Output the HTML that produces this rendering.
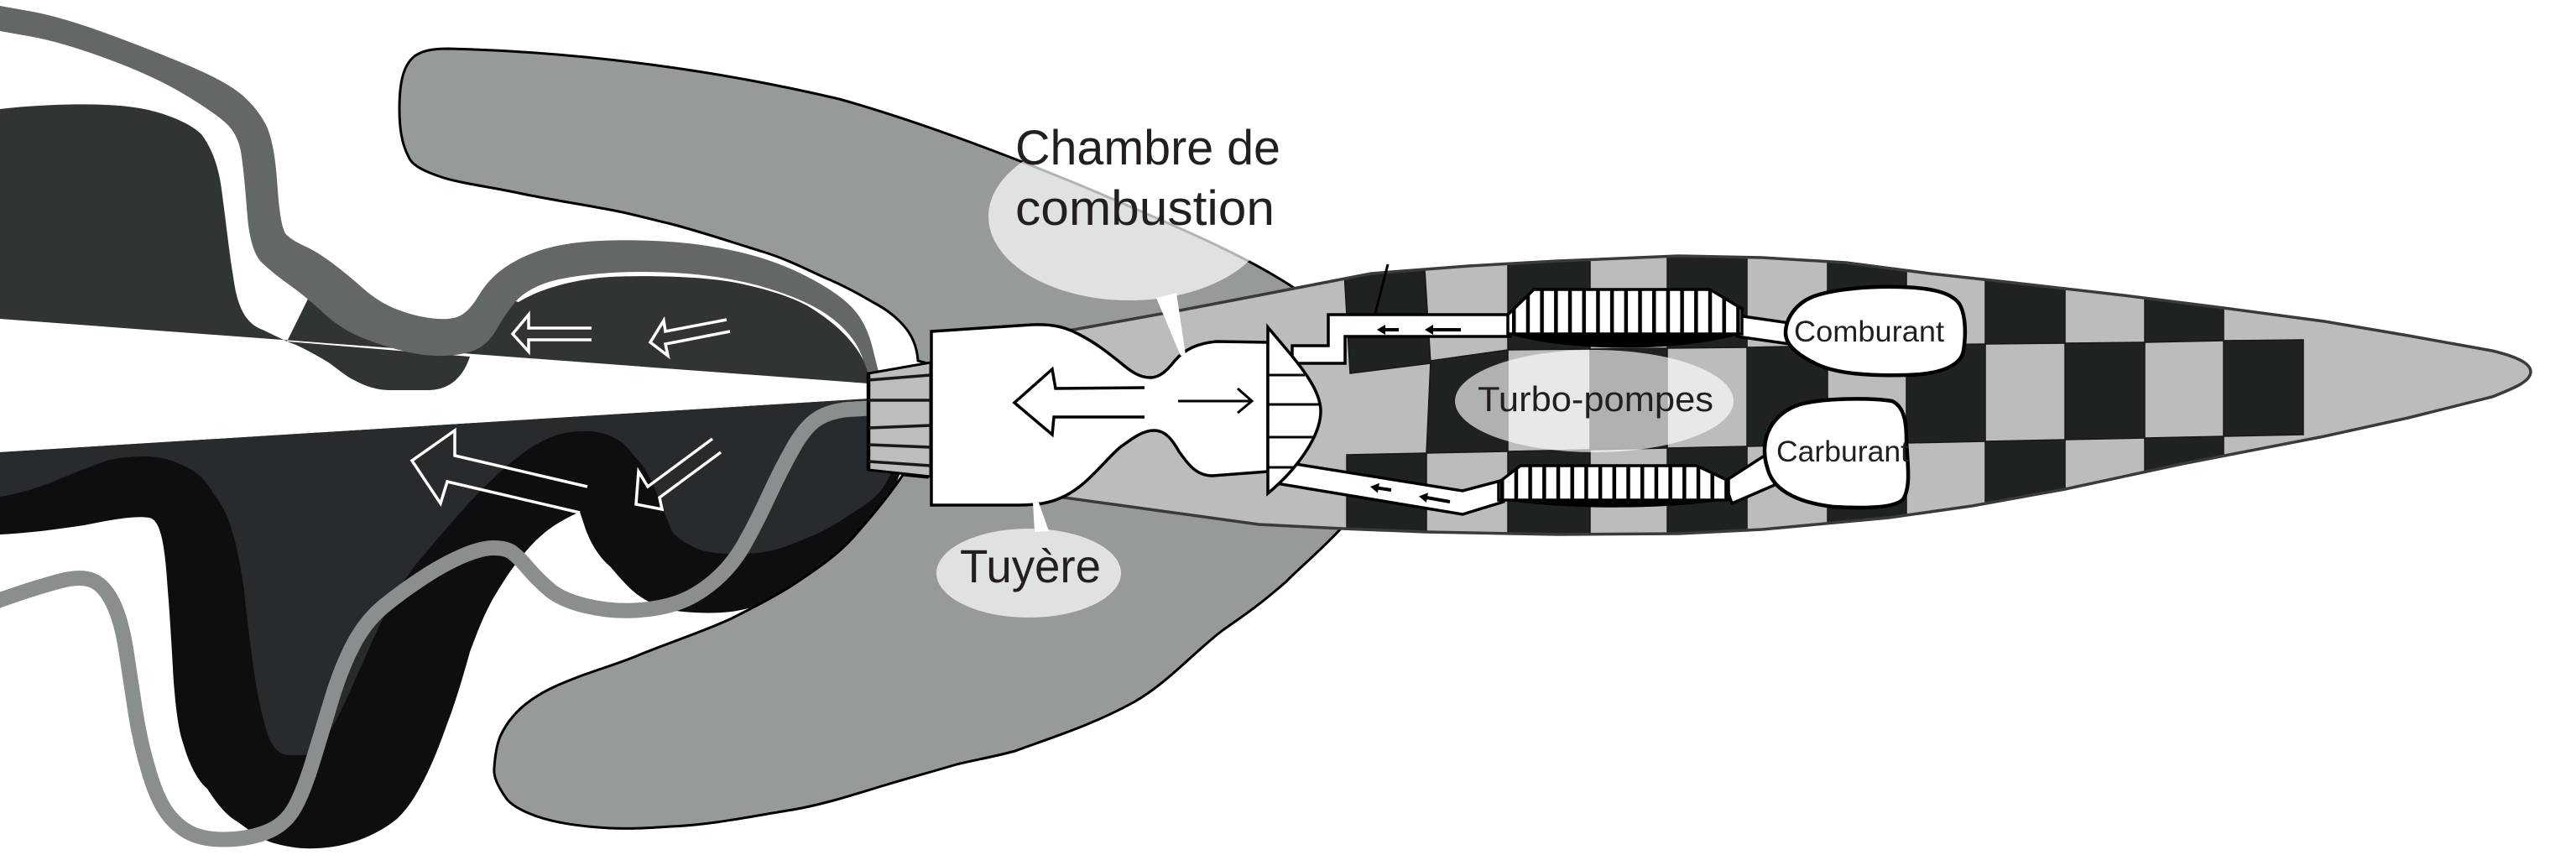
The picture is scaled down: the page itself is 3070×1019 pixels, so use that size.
<!DOCTYPE html>
<html><head><meta charset="utf-8"><title>Moteur-fusée</title>
<style>
html,body{margin:0;padding:0;background:#fff;width:3070px;height:1019px;overflow:hidden;}
svg{display:block;}
text{font-family:"Liberation Sans","DejaVu Sans",sans-serif;fill:#231f20;}
</style></head><body>
<svg xmlns="http://www.w3.org/2000/svg" width="3070" height="1019" viewBox="0 0 3070 1019">
<defs>
<clipPath id="bc"><path d="M1110,424 L1279,393 L1406,370 L1500,352 L1634,326 L1750,317 L1857,311 L2000,305 L2100,307 L2200,313 L2300,326 L2400,337 L2531,352 L2650,367 L2770,383 L2870,400 L2970,418 C2995,424 3016,432 3016,443 C3016,455 2995,463 2970,473 L2870,498 L2770,520 L2600,553 L2461,583 L2350,603 L2251,617 L2100,631 L2000,636 L1857,637 L1700,634 L1600,630 L1500,625 L1268,593 L1110,571 Z"/></clipPath>
<pattern id="st1" x="1802" y="0" width="16.7" height="1019" patternUnits="userSpaceOnUse"><rect width="4.5" height="1019" fill="#000"/></pattern>
<pattern id="st2" x="1788" y="0" width="16.7" height="1019" patternUnits="userSpaceOnUse"><rect width="4.5" height="1019" fill="#000"/></pattern>
</defs>
<rect width="3070" height="1019" fill="#fff"/>

<!-- upper dark exhaust -->
<path fill="#313435" d="M0,130 C50,124 120,122 160,128 C190,132 225,145 240,160 C255,180 262,205 265,233 C270,270 273,300 278,330 C282,360 290,385 313,393 L342,407 L380,330 L421,350 L463,376 L533,388 L561,380 L582,350 L618,360 C640,346 680,333 727,330 C770,328 830,329 872,336 C920,345 950,357 965,366 C1000,388 1025,412 1038,450 L1035,457 L0,380 Z"/>
<path fill="#313435" d="M342,407 C360,413 380,425 393,433 C405,442 415,450 422,453 C440,463 455,465 465,465 L509,465 C525,465 533,460 538,457 C548,450 555,440 560,425 Z"/>

<!-- black band -->
<path fill="#0c0e10" d="M0,592 L0,637 C40,635 73,630 100,626 C130,620 160,614 178,617 C190,620 196,640 200,704 C203,740 205,780 207,813 C210,850 213,870 218,885 C225,910 235,930 247,940 C260,960 270,972 284,980 C300,992 315,1002 327,1005 C345,1010 360,1012 378,1011 C400,1010 420,1005 436,998 C450,992 462,985 473,976 C490,960 500,940 509,922 C522,895 530,870 538,849 C548,820 555,795 560,777 C570,750 578,730 589,711 C600,693 608,680 618,668 C630,652 642,640 654,631 C666,622 680,615 691,610 L698,631 C705,650 715,665 727,675 C740,690 750,702 763,711 C780,722 795,727 814,729 C835,731 855,731 872,729 C900,725 925,715 945,704 C970,690 988,676 1003,660 C1020,643 1035,628 1047,613 C1057,600 1065,585 1072,566 L1037,475 L0,539 Z"/>
<!-- lower mid-dark -->
<path fill="#282b2d" d="M0,539 L1037,475 L1061,566 C1055,578 1050,585 1047,588 C1035,600 1025,606 1018,610 C1000,622 985,632 967,639 C950,646 935,653 916,657 C900,660 885,660 872,660 C855,660 840,658 829,653 C815,647 805,640 800,631 C792,612 786,595 778,577 C770,560 763,550 756,544 C748,533 742,527 734,523 C722,516 710,514 698,514 C688,514 678,515 669,517 C650,522 632,533 618,544 C595,562 572,585 553,606 C530,632 510,655 494,675 C475,700 462,725 451,748 C440,772 430,795 422,813 C412,835 402,858 393,871 C385,885 375,900 363,900 L342,900 C330,898 324,888 320,878 C312,855 306,825 302,795 C298,765 294,735 291,704 C287,675 282,650 276,631 C270,610 262,598 254,588 C244,570 232,560 218,555 C205,548 190,544 174,544 C158,544 145,545 131,548 C110,555 90,563 73,570 C50,580 25,588 0,592 Z"/>

<!-- dark grey band (filled) -->
<path fill="#646768" d="M-5,5 L0,7 L36.5,13.5 Q73,20 127.5,40 Q182,60 225.5,78.5 Q269,97 287,112 Q305,127 316,147 Q327,167 330.5,220 Q334,273 341.5,280 Q349,287 363.5,293.5 Q378,300 396,313.5 Q414,327 432.5,343.5 Q451,360 472.5,368.5 Q494,377 516,379.5 Q538,382 549,376 Q560,370 571,351.5 Q582,333 600,320 Q618,307 643.5,298.5 Q669,290 705.5,287.5 Q742,285 789,287.5 Q836,290 879.5,300 Q923,310 959.5,328.5 Q996,347 1014,365 Q1032,383 1039.5,413 L1047,443 L1036,448 L1027,424 Q1018,400 992.5,380 Q967,360 919.5,345 Q872,330 817.5,326 Q763,322 716,326 Q669,330 647,338.5 Q625,347 614,360 Q603,373 592.5,391.5 Q582,410 567.5,416.5 Q553,423 531,424 Q509,425 483.5,419 Q458,413 432.5,403 Q407,393 385.5,373 Q364,353 345.5,340 Q327,327 312.5,313.5 Q298,300 294.5,253.5 Q291,207 287.5,183.5 Q284,160 269,146.5 Q254,133 218,111.5 Q182,90 127.5,70 Q73,50 36.5,43.5 L0,37 L-5,37 Z"/>
<!-- light grey band -->
<path fill="none" stroke="#8b8e8f" stroke-width="18" stroke-linejoin="round" d="M-10,719 L0,715 L22,707.5 Q44,700 69.5,693 Q95,686 109.5,691.5 Q124,697 134.5,718.5 Q145,740 150.5,776.5 Q156,813 161.5,849 Q167,885 178,921.5 Q189,958 203.5,974.5 Q218,991 236,996.5 Q254,1002 279.5,1000 Q305,998 323.5,989 Q342,980 352.5,960 Q363,940 374,903.5 Q385,867 396,831 Q407,795 421.5,767.5 Q436,740 458,722 Q480,704 505.5,687.5 Q531,671 552.5,662 Q574,653 588.5,653 Q603,653 610.5,658.5 Q618,664 629,677 Q640,690 654.5,702.5 Q669,715 698,722 Q727,729 756,727.5 Q785,726 807,718.5 Q829,711 850.5,693 Q872,675 886.5,649.5 Q901,624 916,591.5 Q931,559 945.5,533.5 Q960,508 974.5,499 Q989,490 1010.5,488 L1045,486"/>

<!-- white outline arrows -->
<g fill="none" stroke="#fff" stroke-width="3.5" stroke-linejoin="miter">
<path d="M705,391 L630,391 L630,375 L611,398 L630,419 L630,405 L705,405"/>
<path d="M866,381 L793,395 L791,382 L775,408 L796,424 L793,410 L870,395"/>
<path d="M700,580 L542,543 L542,513 L491,549 L525,600 L533,574 L691,611"/>
<path d="M849,523 L772,580 L761,562 L758,601 L789,607 L786,593 L859,539"/>
</g>

<!-- big grey shape -->
<path fill="#979a9b" stroke="#000" stroke-width="3" d="M534,58 C700,62 860,85 1000,118 C1100,146 1230,195 1351,248 C1420,278 1490,308 1545,345 L1750,440 L1750,600 L1600,628 C1570,660 1545,680 1533,693 C1500,722 1480,735 1456,752 C1420,780 1390,815 1351,837 C1300,865 1250,880 1210,895 C1180,903 1160,906 1140,911 C1110,920 1080,928 1054,936 C1020,946 985,958 945,965 C900,972 850,983 800,985 C770,987 750,988 727,987 C690,985 660,980 640,973 C620,966 608,958 603,951 C592,935 588,925 589,915 C590,900 592,888 596,878 C605,858 618,845 632,835 C650,822 670,814 691,806 C715,797 740,790 763,780 C800,765 840,752 872,737 C900,723 925,710 945,697 C975,677 1000,660 1018,639 C1040,614 1060,590 1076,566 L1105,569 L1105,433 L1094,430 C1093,415 1088,400 1076,387 C1065,375 1055,368 1040,360 C1020,348 1000,338 981,330 C955,318 935,308 909,300 C870,288 835,276 800,267 C770,260 750,254 727,250 C690,243 650,237 618,230 C580,222 545,218 523,210 C500,202 490,195 487,187 C478,170 476,150 476,130 C476,100 480,78 494,67 C505,59 520,58 534,58 Z"/>

<!-- rocket body -->
<path fill="#bbbdbd" d="M1110,424 L1279,393 L1406,370 L1500,352 L1634,326 L1750,317 L1857,311 L2000,305 L2100,307 L2200,313 L2300,326 L2400,337 L2531,352 L2650,367 L2770,383 L2870,400 L2970,418 C2995,424 3016,432 3016,443 C3016,455 2995,463 2970,473 L2870,498 L2770,520 L2600,553 L2461,583 L2350,603 L2251,617 L2100,631 L2000,636 L1857,637 L1700,634 L1600,630 L1500,625 L1268,593 L1110,571 Z"/>
<g clip-path="url(#bc)" fill="#1f2223" stroke="#151718" stroke-width="1.5">
<polygon points="1600,290 1696,290 1705,433 1609,445"/>
<polygon points="1797,290 1895,290 1895,416 1797,417"/>
<polygon points="1987,290 2082,290 2082,414 1987,415"/>
<polygon points="2178,290 2272,290 2272,411 2178,412"/>
<polygon points="2366,290 2461,290 2461,409 2366,410"/>
<polygon points="2556,290 2650,290 2650,406 2556,408"/>
<polygon points="1705,430 1797,417 1797,538 1700,540"/>
<polygon points="1895,416 1987,415 1987,534 1895,536"/>
<polygon points="2082,414 2178,412 2178,530 2082,532"/>
<polygon points="2272,411 2366,410 2366,526 2272,528"/>
<polygon points="2461,409 2556,408 2556,522 2461,524"/>
<polygon points="2650,406 2745,405 2745,518 2650,520"/>
<polygon points="1605,542 1700,540 1700,660 1605,660"/>
<polygon points="1797,538 1895,536 1895,660 1797,660"/>
<polygon points="1987,534 2082,532 2082,660 1987,660"/>
<polygon points="2178,530 2272,528 2272,660 2178,660"/>
<polygon points="2366,526 2461,524 2461,660 2366,660"/>
<polygon points="2556,522 2650,520 2650,660 2556,660"/>
</g>
<path fill="none" stroke="#3a3a3a" stroke-width="3.5" d="M1110,424 L1279,393 L1406,370 L1500,352 L1634,326 L1750,317 L1857,311 L2000,305 L2100,307 L2200,313 L2300,326 L2400,337 L2531,352 L2650,367 L2770,383 L2870,400 L2970,418 C2995,424 3016,432 3016,443 C3016,455 2995,463 2970,473 L2870,498 L2770,520 L2600,553 L2461,583 L2350,603 L2251,617 L2100,631 L2000,636 L1857,637 L1700,634 L1600,630 L1500,625 L1268,593 L1110,571"/>

<!-- Turbo-pompes ellipse -->
<ellipse cx="1900" cy="478" rx="166" ry="61" fill="#fff" fill-opacity="0.65"/>

<!-- vent line -->
<line x1="1654" y1="315" x2="1638" y2="377" stroke="#000" stroke-width="3"/>

<!-- pipes -->
<g fill="#fff" stroke="#000" stroke-width="3.5" stroke-linejoin="miter">
<path d="M1525,550 L1743,585 L1792,572 L1792,598 L1743,613 L1515,575 Z"/>
<path d="M1540,412 L1583,412 L1583,375 L1800,375 L1800,401 L1603,401 L1603,433 L1540,433 Z"/>
<path d="M2070,376 L2140,386 L2140,411 L2070,401 Z"/>
<path d="M2055,574 L2106,541 L2115,578 L2064,600 Z"/>
</g>
<!-- pipe arrows -->
<g stroke="#000" stroke-width="4" fill="#000">
<line x1="1650" y1="393" x2="1667" y2="393"/>
<polygon stroke="none" points="1641,393 1651,387 1651,399"/>
<line x1="1707" y1="393" x2="1741" y2="393"/>
<polygon stroke="none" points="1698,393 1708,387 1708,399"/>
<line x1="1642" y1="581.6" x2="1658" y2="584"/>
<polygon stroke="none" points="1633,580 1643.9,575.7 1641.9,587.5"/>
<line x1="1700" y1="593" x2="1728" y2="598"/>
<polygon stroke="none" points="1691,591.5 1701.9,587.2 1699.9,599"/>
</g>

<!-- pumps -->
<path fill="#fff" d="M1797,375 L1828,345 L2038,345 L2076,368 L2076,398 L1797,398 Z"/>
<path fill="url(#st1)" d="M1797,375 L1828,345 L2038,345 L2076,368 L2076,398 L1797,398 Z"/>
<path fill="none" stroke="#000" stroke-width="3.5" d="M1797,375 L1828,345 L2038,345 L2076,368 L2076,398 L1797,398 Z"/>
<path fill="#000" d="M1797,398 C1870,420 2000,420 2076,398 Z"/>
<path fill="#fff" d="M1786,575 L1812,555 L2022,555 L2060,573 L2060,596 L1786,596 Z"/>
<path fill="url(#st2)" d="M1786,575 L1812,555 L2022,555 L2060,573 L2060,596 L1786,596 Z"/>
<path fill="none" stroke="#000" stroke-width="3.5" d="M1786,575 L1812,555 L2022,555 L2060,573 L2060,596 L1786,596 Z"/>
<path fill="#000" d="M1786,595 C1860,608 1990,608 2060,595 Z"/>

<!-- nozzle fan -->
<polygon points="1035,445 1109,432 1109,568 1035,560" fill="#bcbebe" stroke="#000" stroke-width="3"/>
<line x1="1035" y1="444" x2="1035" y2="561" stroke="#000" stroke-width="4.5"/>
<g stroke="#1a1718" stroke-width="3.5">
<line x1="1035" y1="453" x2="1109" y2="447"/>
<line x1="1035" y1="477" x2="1109" y2="477"/>
<line x1="1035" y1="510" x2="1109" y2="507"/>
<line x1="1035" y1="530" x2="1109" y2="533"/>
<line x1="1035" y1="550" x2="1109" y2="555"/>
</g>

<!-- engine chamber -->
<path fill="#fff" stroke="#000" stroke-width="3.5" stroke-linejoin="miter" d="M1110,395 L1230,387 C1255,386 1270,390 1285,398 C1305,408 1320,420 1335,432 C1348,443 1358,450 1371,450 C1383,450 1392,440 1400,430 C1410,418 1425,409 1450,407 L1511,408 L1511,562 L1445,567 C1425,567 1415,552 1405,538 C1396,522 1388,513 1375,513 C1362,513 1350,522 1335,533 C1315,550 1295,580 1265,593 C1250,600 1235,602 1210,602 L1110,602 Z"/>
<path fill="none" stroke="#000" stroke-width="3.5" d="M1364,462 L1258,463 L1254,440 L1209,480 L1254,518 L1256,497 L1364,497"/>
<path fill="none" stroke="#000" stroke-width="3" d="M1404,478 L1491,478 M1475,463 L1492,478 L1475,492"/>
<!-- cap -->
<path fill="#fff" stroke="#000" stroke-width="3.5" d="M1511,390 C1540,425 1574,460 1574,490 C1574,520 1545,560 1511,588 Z"/>
<path fill="none" stroke="#000" stroke-width="3" d="M1511,447 L1555,447 M1511,482 L1572,482 M1511,521 L1567,521 M1511,557 L1543,557"/>

<!-- tanks -->
<path fill="#fff" stroke="#000" stroke-width="4.5" d="M2128,397 C2128,380 2140,360 2165,352 C2190,344 2230,341 2265,342 C2300,343 2325,348 2335,362 C2343,375 2343,400 2340,418 C2337,435 2315,446 2272,447 C2230,448 2190,446 2165,434 C2140,422 2128,410 2128,397 Z"/>
<path fill="#fff" stroke="#000" stroke-width="4.5" d="M2103,537 C2103,510 2120,490 2145,482 C2175,474 2230,474 2255,478 C2270,485 2272,505 2272,525 C2273,550 2278,580 2268,595 C2258,606 2220,606 2185,604 C2150,600 2115,588 2107,560 C2104,550 2103,545 2103,537 Z"/>
<text x="2138" y="407" font-size="35" textLength="179" lengthAdjust="spacingAndGlyphs">Comburant</text>
<text x="2117" y="550" font-size="35" textLength="158" lengthAdjust="spacingAndGlyphs">Carburant</text>

<!-- label callouts -->
<ellipse cx="1346" cy="258" rx="168" ry="100" fill="#fff" fill-opacity="0.7"/>
<polygon points="1378,355 1402,349 1413,423 1407,424" fill="#fff"/>
<ellipse cx="1226" cy="683" rx="110" ry="53" fill="#fff" fill-opacity="0.7"/>
<polygon points="1231,599 1238,599 1250,633 1233,634" fill="#fff"/>

<text x="1210" y="196" font-size="58" textLength="316" lengthAdjust="spacingAndGlyphs">Chambre de</text>
<text x="1210" y="268" font-size="58" textLength="309" lengthAdjust="spacingAndGlyphs">combustion</text>
<text x="1144" y="694" font-size="56" textLength="168" lengthAdjust="spacingAndGlyphs">Tuyère</text>
<text x="1761" y="490" font-size="42" textLength="281" lengthAdjust="spacingAndGlyphs">Turbo-pompes</text>
</svg>
</body></html>
